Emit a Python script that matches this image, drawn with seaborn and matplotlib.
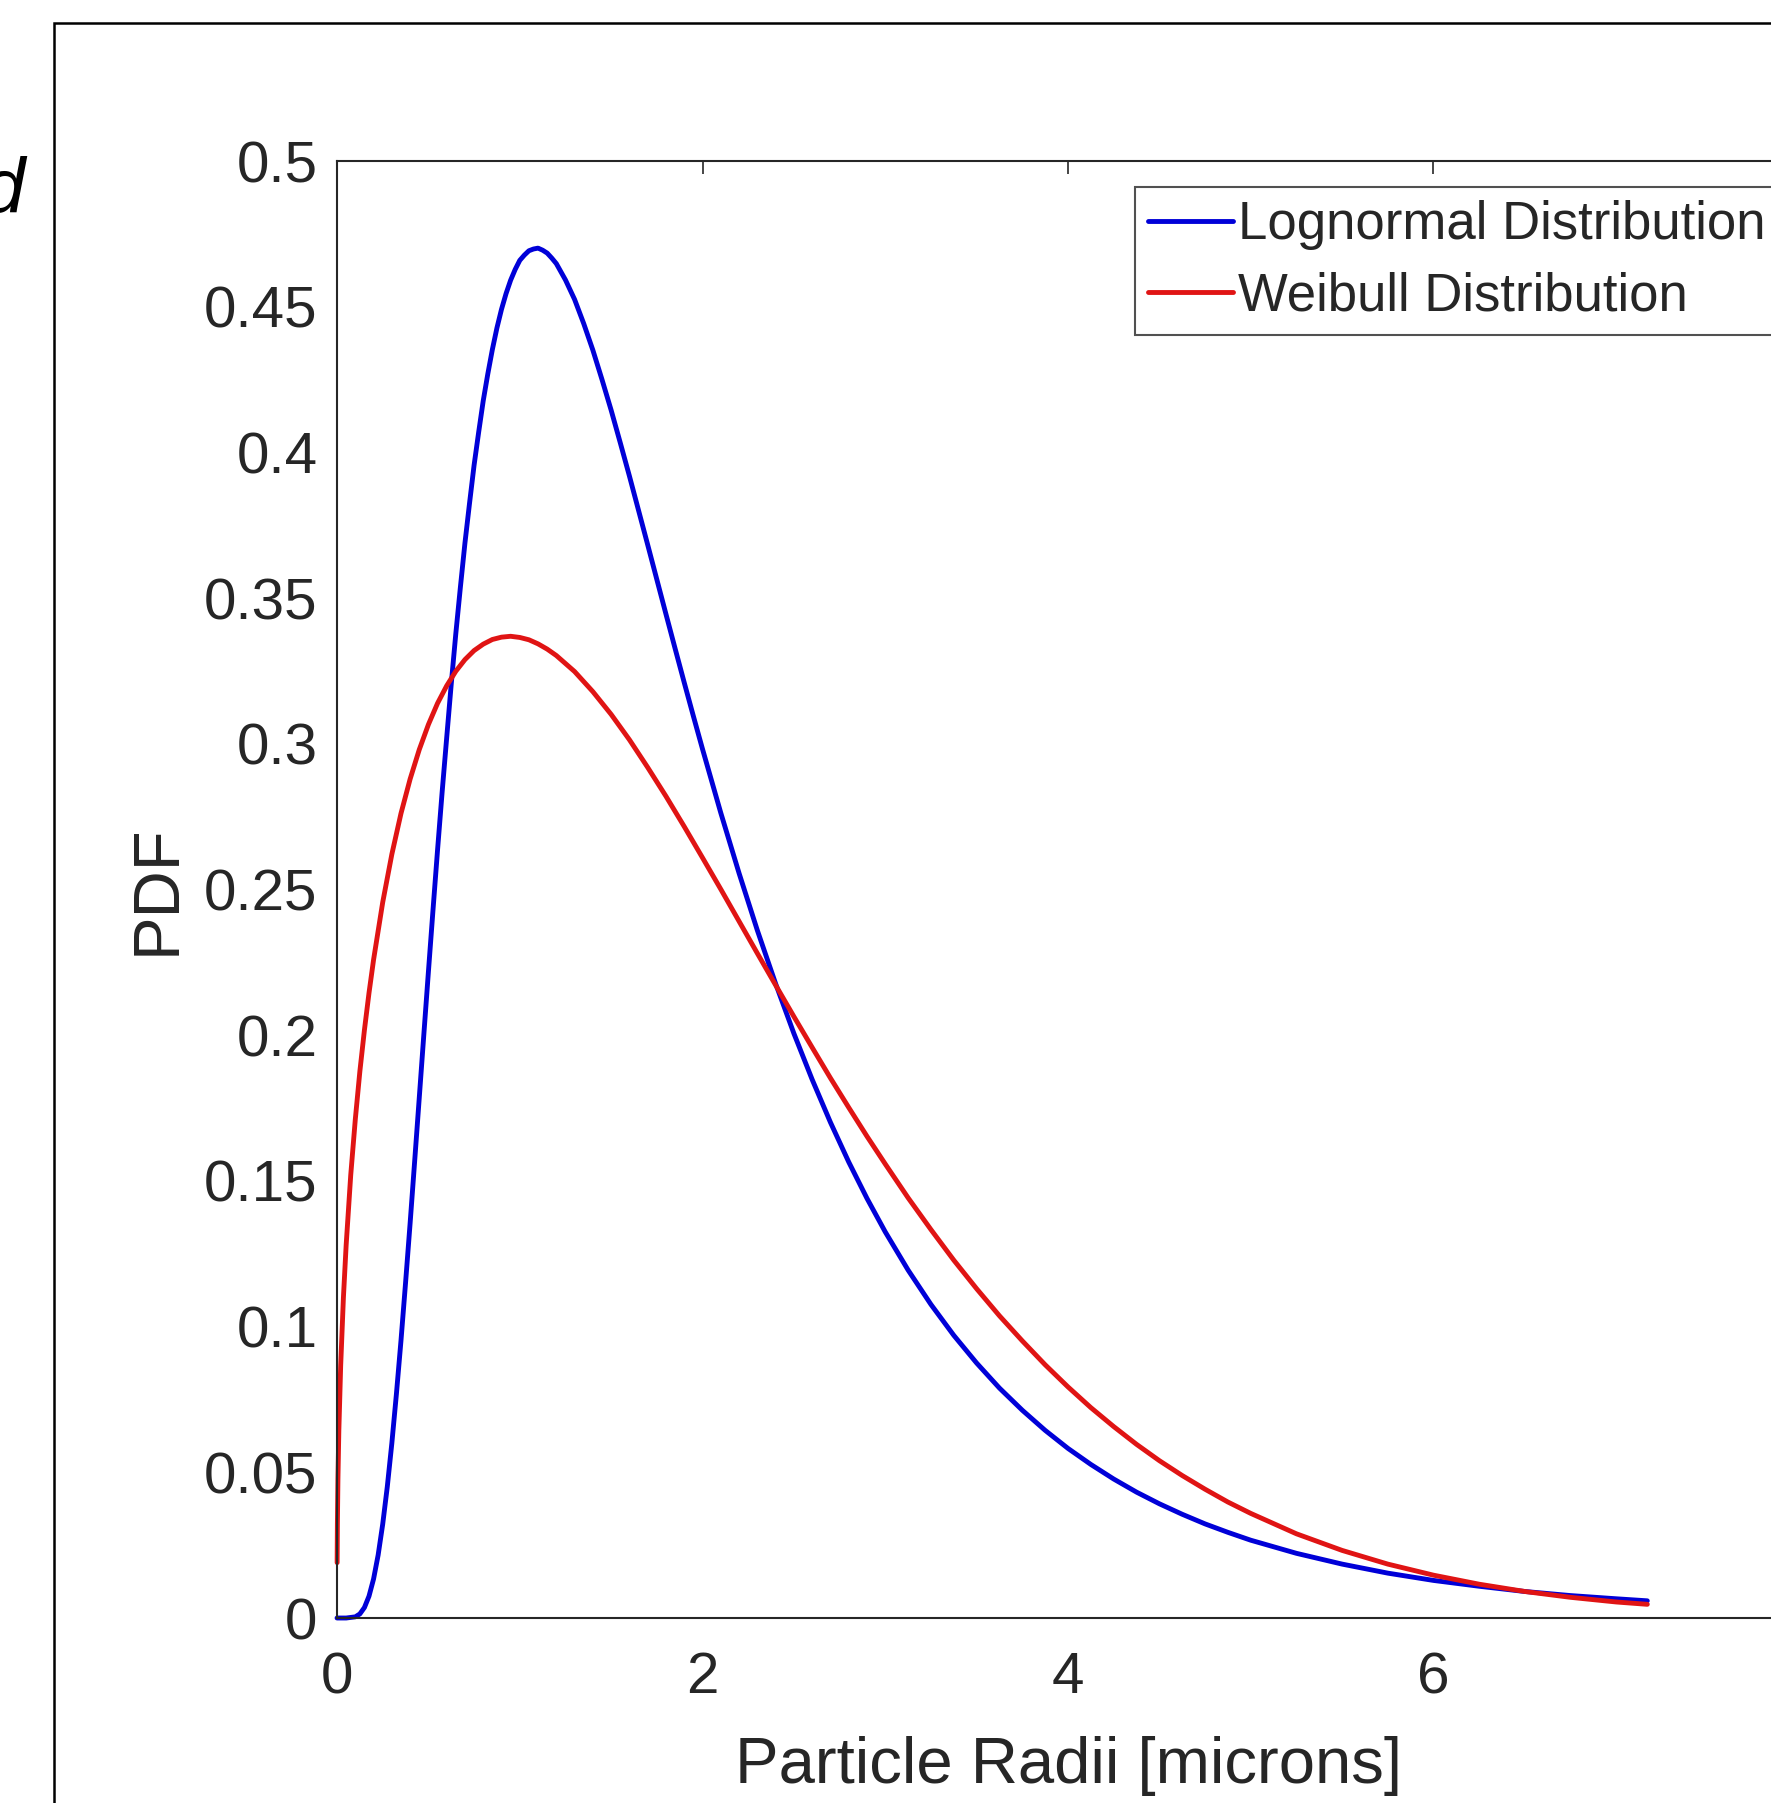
import matplotlib
matplotlib.use("Agg")
import matplotlib.pyplot as plt
import seaborn as sns
from matplotlib.patches import Rectangle

# values
lognormal_x = [0, 0.05, 0.1, 0.125, 0.15, 0.175, 0.2, 0.225, 0.25, 0.275,
               0.3, 0.325, 0.35, 0.375, 0.4, 0.425, 0.45, 0.475, 0.5, 0.525,
               0.55, 0.575, 0.6, 0.625, 0.65, 0.675, 0.7, 0.725, 0.75, 0.775, 0.8,
               0.825, 0.85, 0.875, 0.9, 0.925, 0.95, 0.975, 1.0,
               1.025, 1.05, 1.075, 1.1, 1.125, 1.15, 1.175, 1.2,
               1.25, 1.3, 1.35, 1.4, 1.45, 1.5, 1.55, 1.6,
               1.65, 1.7, 1.75, 1.8, 1.85, 1.9, 1.95, 2.0,
               2.1, 2.2, 2.3, 2.4, 2.5, 2.6, 2.7, 2.8, 2.9, 3.0,
               3.125, 3.25, 3.375, 3.5, 3.625, 3.75, 3.875, 4.0,
               4.125, 4.25, 4.375, 4.5, 4.625, 4.75, 4.875, 5.0,
               5.25, 5.5, 5.75, 6.0, 6.25, 6.5, 6.75, 7.0, 7.17]
lognormal_y = [0, 0.0, 0.0004, 0.0014, 0.0036, 0.0075, 0.0134, 0.0216, 0.0322, 0.0450,
               0.0600, 0.0769, 0.0952, 0.1150, 0.1355, 0.1569, 0.1785, 0.2002, 0.2217, 0.2428,
               0.2635, 0.2833, 0.3020, 0.3205, 0.3378, 0.3537, 0.3689, 0.3825, 0.3956, 0.4069, 0.4177,
               0.4269, 0.4353, 0.4427, 0.4491, 0.4545, 0.4591, 0.4628, 0.4659,
               0.4677, 0.4692, 0.4698, 0.4701, 0.4694, 0.4684, 0.4667, 0.4648,
               0.4592, 0.4525, 0.4442, 0.4351, 0.4250, 0.4145, 0.4033, 0.3919,
               0.3801, 0.3683, 0.3564, 0.3445, 0.3327, 0.3210, 0.3095, 0.2982,
               0.2763, 0.2556, 0.2360, 0.2177, 0.2006, 0.1848, 0.1701, 0.1565, 0.1440, 0.1325,
               0.1194, 0.1076, 0.0970, 0.0875, 0.0789, 0.0713, 0.0644, 0.0582,
               0.0527, 0.0477, 0.0432, 0.0392, 0.0356, 0.0323, 0.0294, 0.0267,
               0.0222, 0.0185, 0.0154, 0.0129, 0.0109, 0.0091, 0.0077, 0.0066, 0.0059]

weibull_x = [0.0006, 0.002, 0.005, 0.01, 0.02, 0.035, 0.05, 0.075, 0.1,
             0.125, 0.15, 0.175, 0.2, 0.25, 0.3, 0.35, 0.4,
             0.45, 0.5, 0.55, 0.6, 0.65, 0.7, 0.75, 0.8,
             0.85, 0.9, 0.95, 1.0, 1.05, 1.1, 1.15, 1.2,
             1.3, 1.4, 1.5, 1.6, 1.7, 1.8, 1.9, 2.0,
             2.1, 2.2, 2.3, 2.4, 2.5, 2.6, 2.7, 2.8, 2.9, 3.0,
             3.125, 3.25, 3.375, 3.5, 3.625, 3.75, 3.875, 4.0,
             4.125, 4.25, 4.375, 4.5, 4.625, 4.75, 4.875, 5.0,
             5.25, 5.5, 5.75, 6.0, 6.25, 6.5, 6.75, 7.0, 7.17]
weibull_y = [0.019, 0.0322, 0.0478, 0.0644, 0.0866, 0.110, 0.128, 0.152, 0.1711,
             0.1876, 0.2018, 0.2145, 0.2259, 0.2456, 0.2621, 0.2761, 0.2879,
             0.2980, 0.3066, 0.3139, 0.3199, 0.3249, 0.3289, 0.3320, 0.3342,
             0.3358, 0.3366, 0.3369, 0.3365, 0.3357, 0.3343, 0.3325, 0.3303,
             0.3248, 0.3179, 0.3101, 0.3014, 0.2919, 0.2820, 0.2716, 0.2609,
             0.2501, 0.2391, 0.2281, 0.2172, 0.2064, 0.1958, 0.1853, 0.1752, 0.1653, 0.1558,
             0.1442, 0.1333, 0.1228, 0.1130, 0.1037, 0.0951, 0.0869, 0.0793,
             0.0722, 0.0657, 0.0596, 0.0540, 0.0489, 0.0442, 0.0398, 0.0359,
             0.0289, 0.0232, 0.0185, 0.0147, 0.0116, 0.0091, 0.0071, 0.0055, 0.0047]

series_labels = ["Lognormal Distribution", "Weibull Distribution"]
x_ticks = [0, 2, 4, 6]
y_ticks = [0, 0.05, 0.1, 0.15, 0.2, 0.25, 0.3, 0.35, 0.4, 0.45, 0.5]
y_tick_labels = ["0", "0.05", "0.1", "0.15", "0.2", "0.25", "0.3", "0.35", "0.4", "0.45", "0.5"]

sns.set_theme(style="white")
plt.rcParams['font.family'] = ['Liberation Sans', 'DejaVu Sans']

dark = "#262626"
fig = plt.figure(figsize=(17.71, 18.03), dpi=100)
ax = fig.add_axes([0.1903, 0.1026, 0.8255, 0.8081])

sns.lineplot(x=lognormal_x, y=lognormal_y, color="#0000d8", linewidth=3.5,
             label=series_labels[0], ax=ax, clip_on=False, solid_joinstyle="round")
sns.lineplot(x=weibull_x, y=weibull_y, color="#e01414", linewidth=3.5,
             label=series_labels[1], ax=ax, clip_on=False, solid_joinstyle="round")

ax.set_xlim(0, 8)
ax.set_ylim(0, 0.5)
ax.set_xticks(x_ticks)
ax.set_yticks(y_ticks)
ax.set_yticklabels(y_tick_labels)

for sp in ax.spines.values():
    sp.set_color(dark)
    sp.set_linewidth(1.5)

ax.tick_params(axis="both", direction="in", length=9, width=1.2, colors=dark,
               labelsize=42, top=True, right=True)
ax.tick_params(axis="x", pad=24)
ax.tick_params(axis="y", pad=14)

ax.set_xlabel("Particle Radii [microns]", fontsize=47, color=dark, labelpad=22)
ax.set_ylabel("PDF", fontsize=47, color=dark, labelpad=12)

leg = ax.legend(loc="upper left", bbox_to_anchor=(0.546, 0.982), borderaxespad=0,
                fontsize=38, frameon=True, fancybox=False, handlelength=1.6,
                handletextpad=0.1, borderpad=0.25, labelspacing=0.4)
leg.get_frame().set_edgecolor(dark)
leg.get_frame().set_linewidth(1.5)
for line in leg.get_lines():
    line.set_linewidth(3.5)

# outer frame of the original figure panel and the cut panel letter
fig.patches.append(Rectangle((54 / 1771, -0.1), 1.2, 1 - 23 / 1803 + 0.1,
                             transform=fig.transFigure, fill=False,
                             edgecolor="black", linewidth=1.8))
fig.text(25 / 1771, 1 - 213 / 1803, "d", fontsize=56, style="italic",
         ha="right", va="baseline", color="black")

fig.savefig("out.png", dpi=100)
